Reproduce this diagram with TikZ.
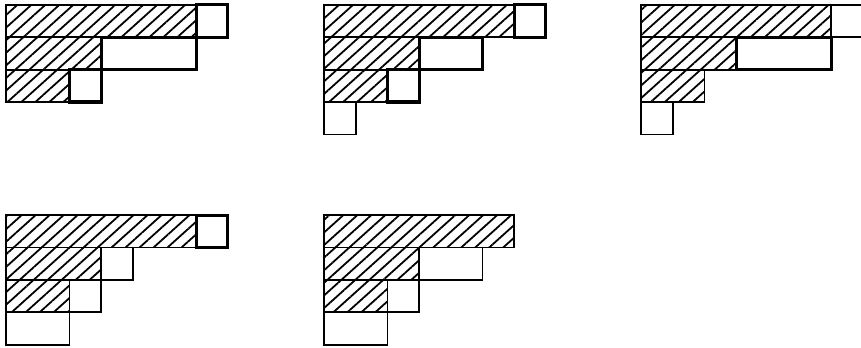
\documentclass[tikz,border=0pt]{standalone}
\usetikzlibrary{patterns.meta}
\tikzset{
  hatched/.style={draw,line width=0.8pt,pattern={Lines[angle=42,distance=4.2pt,line width=0.8pt]}},
  cellbox/.style={draw,line width=0.8pt},
  markbox/.style={draw,line width=1.4pt}
}
\begin{document}
\begin{tikzpicture}[x=0.5cm,y=0.511cm]
  \useasboundingbox (0,0) rectangle (27.16,10.74);
  % first diagram
  \begin{scope}[shift={(0.19,10.59)}]
    \draw[hatched] (0,0) rectangle (6,-1);
    \draw[hatched] (0,-1) rectangle (3,-2);
    \draw[hatched] (0,-2) rectangle (2,-3);
    \draw[markbox] (6,0) rectangle (7,-1);
    \draw[markbox] (3,-1) rectangle (6,-2);
    \draw[markbox] (2,-2) rectangle (3,-3);
  \end{scope}
  % second diagram
  \begin{scope}[shift={(10.22,10.59)}]
    \draw[hatched] (0,0) rectangle (6,-1);
    \draw[hatched] (0,-1) rectangle (3,-2);
    \draw[hatched] (0,-2) rectangle (2,-3);
    \draw[cellbox] (0,-3) rectangle (1,-4);
    \draw[markbox] (6,0) rectangle (7,-1);
    \draw[markbox] (3,-1) rectangle (5,-2);
    \draw[markbox] (2,-2) rectangle (3,-3);
  \end{scope}
  % third diagram
  \begin{scope}[shift={(20.22,10.59)}]
    \draw[hatched] (0,0) rectangle (6,-1);
    \draw[hatched] (0,-1) rectangle (3,-2);
    \draw[hatched] (0,-2) rectangle (2,-3);
    \draw[cellbox] (6,0) rectangle (7,-1);
    \draw[cellbox] (0,-3) rectangle (1,-4);
    \draw[markbox] (3,-1) rectangle (6,-2);
  \end{scope}
  % fourth diagram
  \begin{scope}[shift={(0.19,4.10)}]
    \draw[hatched] (0,0) rectangle (6,-1);
    \draw[hatched] (0,-1) rectangle (3,-2);
    \draw[hatched] (0,-2) rectangle (2,-3);
    \draw[cellbox] (3,-1) rectangle (4,-2);
    \draw[cellbox] (2,-2) rectangle (3,-3);
    \draw[cellbox] (0,-3) rectangle (2,-4);
    \draw[markbox] (6,0) rectangle (7,-1);
  \end{scope}
  % fifth diagram
  \begin{scope}[shift={(10.22,4.10)}]
    \draw[hatched] (0,0) rectangle (6,-1);
    \draw[hatched] (0,-1) rectangle (3,-2);
    \draw[hatched] (0,-2) rectangle (2,-3);
    \draw[cellbox] (3,-1) rectangle (5,-2);
    \draw[cellbox] (2,-2) rectangle (3,-3);
    \draw[cellbox] (0,-3) rectangle (2,-4);
  \end{scope}
\end{tikzpicture}
\end{document}
